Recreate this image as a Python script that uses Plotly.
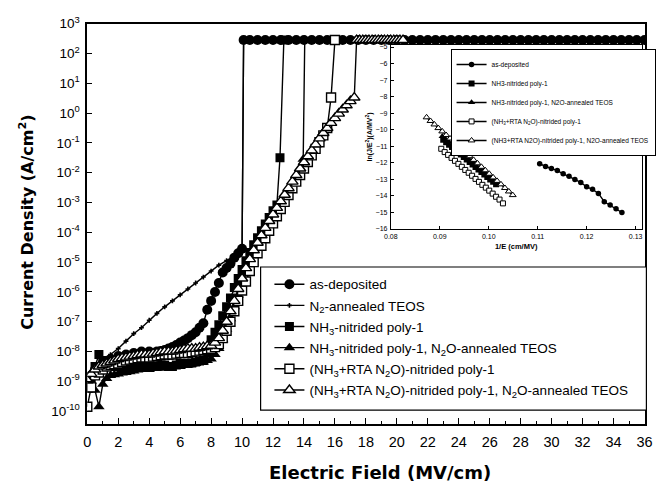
import numpy as np
import plotly.graph_objects as go

# ---------------- main panel data (field in MV/cm, log10 of J in A/cm^2) ----------------
compliance_field = [10.5, 11, 11.5, 12, 12.5, 13, 13.5, 14, 14.5, 15, 15.5, 16, 16.5, 17, 17.5,
                    18, 18.5, 19, 19.5, 20, 20.5, 21, 21.5, 22, 22.5, 23, 23.5, 24, 24.5, 25,
                    25.5, 26, 26.5, 27, 27.5, 28, 28.5, 29, 29.5, 30, 30.5, 31, 31.5, 32, 32.5,
                    33, 33.5, 34, 34.5, 35, 35.5, 36]
compliance_logJ = [2.45, 2.45, 2.45, 2.45, 2.45, 2.45, 2.45, 2.45, 2.45, 2.45, 2.45, 2.45, 2.45,
                   2.45, 2.45, 2.45, 2.45, 2.45, 2.45, 2.45, 2.45, 2.45, 2.45, 2.45, 2.45, 2.45,
                   2.45, 2.45, 2.45, 2.45, 2.45, 2.45, 2.45, 2.45, 2.45, 2.45, 2.45, 2.45, 2.45,
                   2.45, 2.45, 2.45, 2.45, 2.45, 2.45, 2.45, 2.45, 2.45, 2.45, 2.45, 2.45, 2.45]

asdep_field = [0, 0.25, 0.5, 1.0, 1.5, 2.0, 2.5, 3.0, 3.5, 4.0, 4.5, 4.75, 5.0, 5.25, 5.5, 5.75,
               6.0, 6.25, 6.5, 6.75, 7.0, 7.25, 7.5, 7.75, 8.0, 8.25, 8.5, 8.75, 9.0, 9.25, 9.5,
               9.75, 10.0, 10.1]
asdep_logJ = [-9.0, -8.8, -8.6, -8.4, -8.25, -8.15, -8.1, -8.05, -8.0, -8.0, -8.0, -7.98, -7.95,
              -7.9, -7.85, -7.78, -7.7, -7.63, -7.55, -7.45, -7.35, -7.2, -7.05, -6.6, -6.3,
              -6.0, -5.7, -5.35, -5.2, -5.05, -4.85, -4.7, -4.55, 2.45]

n2_field = [0, 0.5, 1.0, 1.5, 2.0, 2.5, 3.0, 3.5, 4.0, 4.5, 5.0, 5.5, 6.0, 6.5, 7.0, 7.5, 8.0,
            8.5, 9.0, 9.5, 10.0, 10.1]
n2_logJ = [-8.9, -8.55, -8.3, -8.1, -7.9, -7.65, -7.4, -7.2, -6.95, -6.72, -6.5, -6.3, -6.1,
           -5.9, -5.7, -5.5, -5.3, -5.1, -4.95, -4.8, -4.6, 2.45]

nh3_field = [0, 0.25, 0.5, 0.75, 1.0, 1.25, 1.5, 1.75, 2.0, 2.25, 2.5, 2.75, 3.0, 3.25, 3.5,
             3.75, 4.0, 4.25, 4.5, 4.75, 5.0, 5.25, 5.5, 5.75, 6.0, 6.25, 6.5, 6.75, 7.0, 7.25,
             7.5, 7.75, 8.0, 8.25, 8.5, 8.75, 9.0, 9.25, 9.5, 9.75, 10.0, 10.25, 10.5, 10.75,
             11.0, 11.25, 11.5, 11.75, 12.0, 12.25, 12.45, 12.7]
nh3_logJ = [-9.2, -8.9, -8.5, -8.1, -8.3, -8.4, -8.45, -8.5, -8.5, -8.55, -8.5, -8.45, -8.45,
            -8.5, -8.5, -8.45, -8.45, -8.5, -8.5, -8.45, -8.45, -8.5, -8.5, -8.45, -8.4, -8.4,
            -8.4, -8.38, -8.35, -8.32, -8.3, -8.05, -7.6, -7.35, -7.1, -6.8, -6.5, -6.2, -5.85,
            -5.55, -5.25, -4.95, -4.68, -4.42, -4.18, -3.95, -3.72, -3.5, -3.28, -3.08, -1.5,
            2.45]

nh3n2o_field = [0, 0.25, 0.5, 0.75, 1.0, 1.25, 1.5, 1.75, 2.0, 2.25, 2.5, 2.75, 3.0, 3.25,
                3.5, 3.75, 4.0, 4.25, 4.5, 4.75, 5.0, 5.25, 5.5, 5.75, 6.0, 6.25, 6.5, 6.75,
                7.0, 7.25, 7.5, 7.75, 8.0, 8.25, 8.5, 8.75, 9.0, 9.25, 9.5, 9.75, 10.0, 10.25,
                10.5, 10.75, 11.0, 11.25, 11.5, 11.75, 12.0, 12.25, 12.5, 12.75, 13.0, 13.25,
                13.5, 13.75, 13.95, 14.05]
nh3n2o_logJ = [-9.3, -9.0, -9.3, -9.85, -9.1, -8.9, -8.8, -8.78, -8.75, -8.72, -8.7, -8.68,
               -8.65, -8.62, -8.6, -8.6, -8.6, -8.57, -8.55, -8.55, -8.55, -8.52, -8.5, -8.5,
               -8.5, -8.47, -8.45, -8.42, -8.4, -8.37, -8.35, -8.3, -8.25, -8.1, -7.9, -7.6,
               -7.25, -6.9, -6.5, -6.1, -5.7, -5.35, -5.0, -4.7, -4.42, -4.17, -3.93, -3.7,
               -3.47, -3.25, -3.03, -2.8, -2.58, -2.36, -2.14, -1.92, -1.55, 2.45]

rta_field = [0, 0.25, 0.5, 0.75, 1.0, 1.25, 1.5, 1.75, 2.0, 2.25, 2.5, 2.75, 3.0, 3.25, 3.5,
             3.75, 4.0, 4.25, 4.5, 4.75, 5.0, 5.25, 5.5, 5.75, 6.0, 6.25, 6.5, 6.75, 7.0, 7.25,
             7.5, 7.75, 8.0, 8.25, 8.5, 8.75, 9.0, 9.25, 9.5, 9.75, 10.0, 10.25, 10.5, 10.75,
             11.0, 11.25, 11.5, 11.75, 12.0, 12.25, 12.5, 12.75, 13.0, 13.25, 13.5, 13.75,
             14.0, 14.25, 14.5, 14.75, 15.0, 15.25, 15.5, 15.75, 16.0]
rta_logJ = [-9.85, -9.2, -8.8, -8.7, -8.6, -8.5, -8.45, -8.42, -8.4, -8.35, -8.3, -8.27, -8.25,
            -8.22, -8.2, -8.2, -8.2, -8.17, -8.15, -8.12, -8.1, -8.1, -8.1, -8.07, -8.05, -8.05,
            -8.05, -8.02, -8.0, -7.97, -7.95, -7.92, -7.9, -7.85, -7.75, -7.55, -7.3, -7.0,
            -6.65, -6.3, -5.95, -5.65, -5.3, -5.0, -4.7, -4.45, -4.2, -3.95, -3.7, -3.46,
            -3.22, -2.98, -2.75, -2.52, -2.3, -2.08, -1.86, -1.64, -1.42, -1.2, -0.98, -0.75,
            -0.5, 0.52, 2.45]

rtan2o_field = [0, 0.25, 0.5, 0.75, 1.0, 1.25, 1.5, 1.75, 2.0, 2.25, 2.5, 2.75, 3.0, 3.25,
                3.5, 3.75, 4.0, 4.25, 4.5, 4.75, 5.0, 5.25, 5.5, 5.75, 6.0, 6.25, 6.5, 6.75,
                7.0, 7.25, 7.5, 7.75, 8.0, 8.25, 8.5, 8.75, 9.0, 9.25, 9.5, 9.75, 10.0, 10.25,
                10.5, 10.75, 11.0, 11.25, 11.5, 11.75, 12.0, 12.25, 12.5, 12.75, 13.0, 13.25,
                13.5, 13.75, 14.0, 14.25, 14.5, 14.75, 15.0, 15.25, 15.5, 15.75, 16.0, 16.25,
                16.5, 16.75, 17.0, 17.25, 17.4, 17.6, 17.8, 18.0, 18.2, 18.4, 18.6, 18.8, 19.0,
                19.2, 19.4, 19.6, 19.8, 20.0, 20.2, 20.4]
rtan2o_logJ = [-8.96, -8.75, -8.6, -8.5, -8.45, -8.4, -8.35, -8.3, -8.25, -8.22, -8.2, -8.17,
               -8.15, -8.12, -8.1, -8.1, -8.1, -8.07, -8.05, -8.02, -8.0, -8.0, -8.0, -7.97,
               -7.95, -7.92, -7.9, -7.9, -7.9, -7.87, -7.85, -7.82, -7.8, -7.7, -7.55, -7.3,
               -7.0, -6.65, -6.3, -5.9, -5.55, -5.2, -4.9, -4.6, -4.35, -4.1, -3.85, -3.62,
               -3.4, -3.18, -2.96, -2.74, -2.52, -2.3, -2.08, -1.86, -1.65, -1.45, -1.25,
               -1.05, -0.85, -0.67, -0.5, -0.33, -0.17, -0.02, 0.12, 0.26, 0.4, 0.52, 2.45,
               2.45, 2.45, 2.45, 2.45, 2.45, 2.45, 2.45, 2.45, 2.45, 2.45, 2.45, 2.45, 2.45,
               2.45, 2.45]

y_tick_exp = [3, 2, 1, 0, -1, -2, -3, -4, -5, -6, -7, -8, -9, -10]
x_tick_vals = [0, 2, 4, 6, 8, 10, 12, 14, 16, 18, 20, 22, 24, 26, 28, 30, 32, 34, 36]

# ---------------- inset data (1/E in cm/MV, ln(J/E^2)) ----------------
in_asdep_x = [0.1104, 0.1116, 0.1128, 0.1140, 0.1152, 0.1164, 0.1176, 0.1188, 0.1200, 0.1212,
              0.1224, 0.1236, 0.1248, 0.1260, 0.1272]
in_asdep_y = [-12.05, -12.22, -12.34, -12.47, -12.66, -12.81, -13.0, -13.19, -13.45, -13.6,
              -13.85, -14.35, -14.55, -14.78, -15.0]
in_nh3_x = [0.0907, 0.0913, 0.0919, 0.0925, 0.0931, 0.0937, 0.0943, 0.0949, 0.0955, 0.0961,
            0.0967, 0.0973, 0.0979, 0.0985, 0.0991, 0.0997, 0.1003, 0.1009, 0.1015]
in_nh3_y = [-10.6, -10.75, -10.9, -11.05, -11.2, -11.35, -11.5, -11.65, -11.8, -11.95, -12.1,
            -12.25, -12.4, -12.55, -12.7, -12.85, -13.0, -13.15, -13.3]
in_nh3n2o_x = [0.0905, 0.0912, 0.0919, 0.0926, 0.0933, 0.0940, 0.0947, 0.0954, 0.0961, 0.0968,
               0.0975, 0.0982, 0.0989, 0.0996, 0.1003]
in_nh3n2o_y = [-10.4, -10.58, -10.76, -10.94, -11.12, -11.3, -11.48, -11.66, -11.84, -12.02,
               -12.2, -12.38, -12.56, -12.74, -12.92]
in_rta_x = [0.0903, 0.0910, 0.0917, 0.0924, 0.0931, 0.0938, 0.0945, 0.0952, 0.0959, 0.0966,
            0.0973, 0.0980, 0.0987, 0.0994, 0.1001, 0.1008, 0.1015, 0.1022, 0.1029]
in_rta_y = [-11.15, -11.35, -11.52, -11.7, -11.88, -12.06, -12.24, -12.43, -12.6, -12.78,
            -12.97, -13.15, -13.33, -13.5, -13.68, -13.86, -14.05, -14.22, -14.45]
in_rtan2o_x = [0.0873, 0.0881, 0.0889, 0.0897, 0.0905, 0.0913, 0.0921, 0.0929, 0.0937, 0.0945,
               0.0953, 0.0961, 0.0969, 0.0977, 0.0985, 0.0993, 0.1001, 0.1009, 0.1017, 0.1025,
               0.1033, 0.1041, 0.1049]
in_rtan2o_y = [-9.25, -9.47, -9.68, -9.9, -10.1, -10.32, -10.53, -10.75, -10.96, -11.17, -11.38,
               -11.6, -11.82, -12.03, -12.24, -12.45, -12.66, -12.88, -13.09, -13.3, -13.52,
               -13.73, -13.95]
in_x_ticks = [0.08, 0.09, 0.10, 0.11, 0.12, 0.13]
in_x_labels = ["0.08", "0.09", "0.10", "0.11", "0.12", "0.13"]

names = ["as-deposited", "N<sub>2</sub>-annealed TEOS", "NH<sub>3</sub>-nitrided poly-1",
         "NH<sub>3</sub>-nitrided poly-1, N<sub>2</sub>O-annealed TEOS",
         "(NH<sub>3</sub>+RTA N<sub>2</sub>O)-nitrided poly-1",
         "(NH<sub>3</sub>+RTA N<sub>2</sub>O)-nitrided poly-1, N<sub>2</sub>O-annealed TEOS"]
inset_names = ["as-deposited", "NH3-nitrided poly-1", "NH3-nitrided poly-1, N2O-annealed TEOS",
               "(NH<sub>3</sub>+RTA N<sub>2</sub>O)-nitrided poly-1",
               "(NH3+RTA N2O)-nitrided poly-1, N2O-annealed TEOS"]

W, H = 672, 489
def px(x):
    return x / W
def py(y):
    return 1 - y / H

fig = go.Figure()
K = "black"

main_series = [
    (asdep_field + compliance_field, asdep_logJ + compliance_logJ,
     dict(symbol="circle", size=10, color=K)),
    (n2_field, n2_logJ, dict(symbol="cross", size=4, color=K)),
    (nh3_field, nh3_logJ, dict(symbol="square", size=9, color=K)),
    (nh3n2o_field, nh3n2o_logJ, dict(symbol="triangle-up", size=10, color=K)),
    (rta_field, rta_logJ, dict(symbol="square", size=9, color="white", line=dict(color=K, width=1.4))),
    (rtan2o_field, rtan2o_logJ, dict(symbol="triangle-up", size=10, color="white", line=dict(color=K, width=1.4))),
]
for i, (xf, lj, mk) in enumerate(main_series):
    fig.add_trace(go.Scatter(
        x=xf, y=10 ** np.array(lj), mode="lines+markers", name=names[i],
        line=dict(color=K, width=1.4), marker=mk, legendgroup=f"m{i}",
        xaxis="x", yaxis="y", legend="legend"))

inset_series = [
    (in_asdep_x, in_asdep_y, dict(symbol="circle", size=5.5, color=K)),
    (in_nh3_x, in_nh3_y, dict(symbol="square", size=6, color=K)),
    (in_nh3n2o_x, in_nh3n2o_y, dict(symbol="triangle-up", size=6.5, color=K)),
    (in_rta_x, in_rta_y, dict(symbol="square", size=5, color="white", line=dict(color=K, width=1))),
    (in_rtan2o_x, in_rtan2o_y, dict(symbol="triangle-up", size=6, color="white", line=dict(color=K, width=1))),
]
for i, (xv, yv, mk) in enumerate(inset_series):
    fig.add_trace(go.Scatter(
        x=xv, y=yv, mode="lines+markers", name=inset_names[i],
        line=dict(color=K, width=1.4), marker=mk, legendgroup=f"i{i}",
        xaxis="x2", yaxis="y2", legend="legend2"))

fig.update_layout(
    width=W, height=H, margin=dict(l=0, r=0, t=0, b=0),
    paper_bgcolor="white", plot_bgcolor="white",
    font=dict(family="Liberation Sans, Arial, sans-serif", color=K),
    xaxis=dict(domain=[px(82), px(652)], range=[0, 36.06], tickvals=x_tick_vals,
               ticks="inside", ticklen=6, tickwidth=1, tickcolor=K,
               minor=dict(dtick=1, ticks="inside", ticklen=3, tickcolor=K, showgrid=False),
               showline=True, linecolor=K, linewidth=1.5, mirror=True, showgrid=False,
               zeroline=False, tickfont=dict(size=14.5), ticklabelstandoff=4),
    yaxis=dict(domain=[py(425), py(14)], type="log", range=[-10.42, 3.0],
               tickvals=[10.0 ** e for e in y_tick_exp],
               ticktext=[f"10<sup>{e}</sup>" for e in y_tick_exp],
               ticks="inside", ticklen=5, tickwidth=1, tickcolor=K,
               showline=True, linecolor=K, linewidth=1.5, mirror=True, showgrid=False,
               zeroline=False, tickfont=dict(size=13.5), ticklabelstandoff=3),
    xaxis2=dict(domain=[px(392), px(648)], range=[0.08, 0.1312], anchor="y2",
                tickvals=in_x_ticks, ticktext=in_x_labels, ticks="inside", ticklen=3,
                tickcolor=K, showline=True, linecolor=K, linewidth=1, mirror=True,
                showgrid=False, zeroline=False, tickfont=dict(size=7), ticklabelstandoff=1,
                title=dict(text="1/E (cm/MV)", standoff=4,
                           font=dict(size=7.5, weight="bold"))),
    yaxis2=dict(domain=[py(225), py(36)], range=[-16, -4.88], anchor="x2", dtick=1,
                ticks="inside", ticklen=3, tickcolor=K, showline=True, linecolor=K,
                linewidth=1, mirror=True, showgrid=False, zeroline=False,
                tickfont=dict(size=7), ticklabelstandoff=1,
                title=dict(text="ln(J/E<sup>2</sup>)(A/MV<sup>2</sup>)", standoff=2,
                           font=dict(size=7, weight="bold"))),
    legend=dict(x=px(268), y=py(266), xanchor="left", yanchor="top",
                bgcolor="rgba(0,0,0,0)", borderwidth=0, font=dict(size=13.5),
                tracegroupgap=0.6, itemwidth=30),
    legend2=dict(x=px(453), y=py(40), xanchor="left", yanchor="top",
                 bgcolor="white", bordercolor=K, borderwidth=1, font=dict(size=6.5),
                 tracegroupgap=0, itemwidth=30),
    shapes=[dict(type="rect", xref="paper", yref="paper", x0=px(259), x1=px(653),
                 y0=py(411), y1=py(264), line=dict(color=K, width=1.2),
                 fillcolor="white", layer="above")],
    annotations=[
        dict(text="Electric Field (MV/cm)", xref="paper", yref="paper", x=px(381), y=py(475),
             xanchor="center", yanchor="middle", showarrow=False,
             font=dict(family="DejaVu Sans", size=18, weight="bold")),
        dict(text="Current Density (A/cm<sup>2</sup>)", xref="paper", yref="paper",
             x=px(20), y=py(218), xanchor="center", yanchor="middle", textangle=-90,
             showarrow=False, font=dict(family="DejaVu Sans", size=16, weight="bold")),
    ],
)

fig.write_html("out.html")
